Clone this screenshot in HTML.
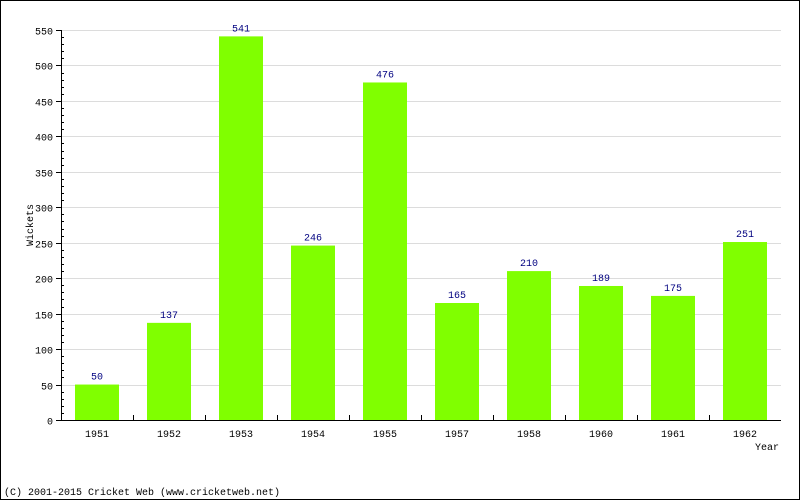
<!DOCTYPE html>
<html><head><meta charset="utf-8"><style>
html,body{margin:0;padding:0;background:#fff}
svg{display:block}
text{font-family:"Liberation Mono","DejaVu Sans Mono",monospace;font-size:10px}
</style></head><body>
<svg id="chart" width="800" height="500">
<rect x="0.5" y="0.5" width="799" height="499" fill="#fff" stroke="#000"/>
<g id="grid"></g><g id="bars"></g><g id="axes"></g>
<text x="33" y="225" transform="rotate(-90 33 225)" text-anchor="middle">Wickets</text>
<text x="779" y="450" text-anchor="end">Year</text>
<text x="4" y="495">(C) 2001-2015 Cricket Web (www.cricketweb.net)</text>
</svg>
<script>
const categories=["1951","1952","1953","1954","1955","1957","1958","1960","1961","1962"];
const values=[50,137,541,246,476,165,210,189,175,251];
const yTicks=[0,50,100,150,200,250,300,350,400,450,500,550];
const NS="http://www.w3.org/2000/svg";
const X0=61,X1=781,Y0=420,Y1=30,YMAX=550;
const band=(X1-X0)/categories.length;
const y=v=>Y0-(v/YMAX)*(Y0-Y1);
const xc=i=>X0+band*(i+0.5);
function mk(tag,attrs,parent,txt){const e=document.createElementNS(NS,tag);for(const k in attrs)e.setAttribute(k,attrs[k]);if(txt!==undefined)e.textContent=txt;parent.appendChild(e);return e;}
const grid=document.getElementById('grid'),bars=document.getElementById('bars'),axes=document.getElementById('axes');
yTicks.forEach(t=>{
 const yy=Math.round(y(t))+0.5;
 if(t>0){const g=mk('line',{x1:X0,x2:X1,y1:yy,y2:yy,stroke:'#dcdcdc'},grid);
 
 }
 const tk=mk('line',{x1:X0-5,x2:X0,y1:yy,y2:yy,stroke:'#000'},axes);
 
 
 const l=mk('text',{x:X0-8,y:yy+4,'text-anchor':'end'},axes,String(t));
 
 
});
for(let v=10;v<YMAX;v+=10){if(v%50===0)continue;const yy=Math.round(y(v))+0.5;
 const m=mk('line',{x1:X0,x2:X0+3,y1:yy,y2:yy,stroke:'#000'},axes);
 
 }
categories.forEach((c,i)=>{
 const bw=44,top=y(values[i]);
 const r=mk('rect',{x:xc(i)-bw/2,y:top,width:bw,height:Y0-top,fill:'#80ff00'},bars);
 
 
 const v=mk('text',{x:xc(i),y:top-5,'text-anchor':'middle',fill:'#000080'},bars,String(values[i]));
 
 
 const l=mk('text',{x:xc(i),y:Y0+17,'text-anchor':'middle'},axes,c);
 
 
 if(i>0){const xx=Math.round(X0+band*i)+0.5;const t=mk('line',{x1:xx,x2:xx,y1:Y0-5,y2:Y0,stroke:'#000'},axes);
 
 }
});
const ya=mk('line',{x1:X0+0.5,x2:X0+0.5,y1:Y1,y2:Y0,stroke:'#000'},axes);


const xa=mk('line',{x1:X0,x2:X1,y1:Y0+0.5,y2:Y0+0.5,stroke:'#000'},axes);


</script>
</body></html>
